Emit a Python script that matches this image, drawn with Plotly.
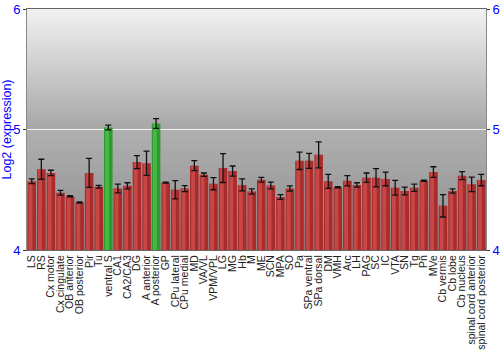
import plotly.graph_objects as go

categories = ["LS", "RS", "Cx motor", "Cx cingulate", "OB anterior", "OB posterior", "Pir", "Tu",
              "ventral S", "CA1", "CA2/CA3", "DG", "A anterior", "A posterior", "GP", "CPu lateral",
              "CPu medial", "MD", "VA/VL", "VPM/VPL", "LG", "MG", "Hb", "M", "ME", "SCN", "MPA", "SO",
              "Pa", "SPa ventral", "SPa dorsal", "DM", "VMH", "Arc", "LH", "PAG", "SC", "IC", "VTA",
              "SN", "Tg", "Pn", "MVe", "Cb vermis", "Cb lobe", "Cb nucleus",
              "spinal cord anterior", "spinal cord posterior"]
values = [4.57, 4.67, 4.64, 4.475, 4.447, 4.394, 4.64, 4.525,
          5.017, 4.51, 4.533, 4.73, 4.72, 5.05, 4.56, 4.50,
          4.51, 4.70, 4.625, 4.55, 4.68, 4.655, 4.54, 4.486, 4.583, 4.536, 4.44, 4.51,
          4.74, 4.74, 4.79, 4.57, 4.52, 4.575, 4.54, 4.60, 4.60, 4.59, 4.517,
          4.49, 4.517, 4.575, 4.647, 4.367, 4.49, 4.617,
          4.545, 4.58]
errors = [0.02, 0.083, 0.022, 0.02, 0.005, 0.005, 0.12, 0.012,
          0.02, 0.036, 0.025, 0.054, 0.1, 0.04, 0.004, 0.076,
          0.025, 0.042, 0.014, 0.05, 0.12, 0.042, 0.05, 0.022, 0.02, 0.028, 0.02, 0.022,
          0.072, 0.062, 0.108, 0.058, 0.005, 0.043, 0.018, 0.039, 0.076, 0.057, 0.061,
          0.032, 0.03, 0.005, 0.044, 0.093, 0.018, 0.033,
          0.06, 0.047]
highlighted = ["ventral S", "A posterior"]
y_ticks = [4, 5, 6]

base_colors = ["#2f9a2f" if c in highlighted else "#a82c2c" for c in categories]
light_colors = ["#45b845" if c in highlighted else "#c84646" for c in categories]

fig = go.Figure()
fig.add_trace(go.Bar(
    x=categories, y=values, base=0,
    marker=dict(color=base_colors, line=dict(width=0)),
    width=0.9, hoverinfo="skip", showlegend=False,
))
fig.add_trace(go.Bar(
    x=categories, y=values,
    marker=dict(color=light_colors, line=dict(width=0)),
    width=0.4, offset=-0.33, hoverinfo="skip", showlegend=False,
))
fig.add_trace(go.Scatter(
    x=categories, y=values, mode="markers",
    marker=dict(size=1, opacity=0),
    error_y=dict(type="data", array=errors, color="#111111", thickness=1.3, width=3),
    hoverinfo="skip", showlegend=False,
))
fig.add_trace(go.Scatter(
    x=categories, y=values, mode="markers", yaxis="y2",
    marker=dict(size=1, opacity=0), hoverinfo="skip", showlegend=False,
))

# background gradient bands (paper coordinates), overlapping to avoid seams
shapes = []
n = 60
ov = 0.006
def lerp(a, b, t):
    return int(round(a + (b - a) * t))
for i in range(n):
    t0 = i / n
    t1 = (i + 1) / n
    tm = (t0 + t1) / 2
    ytop = 1 - t0 * 0.5
    ybot = 1 - t1 * 0.5
    g = lerp(0xf2, 0xa6, tm)
    shapes.append(dict(type="rect", xref="paper", yref="paper", x0=0, x1=1,
                       y0=max(0.5, ybot - ov), y1=ytop,
                       fillcolor=f"rgb({g},{g},{g})", line=dict(width=0), layer="below"))
for i in range(n):
    t0 = i / n
    t1 = (i + 1) / n
    tm = (t0 + t1) / 2
    ytop = 0.5 - t0 * 0.5
    ybot = 0.5 - t1 * 0.5
    g2 = lerp(0xb0, 0x8c, tm)
    shapes.append(dict(type="rect", xref="paper", yref="paper", x0=0, x1=1,
                       y0=max(0, ybot - ov), y1=ytop,
                       fillcolor=f"rgb({g2},{g2},{g2})", line=dict(width=0), layer="below"))

fig.update_layout(
    width=500, height=350,
    margin=dict(l=27, r=14, t=9, b=100),
    paper_bgcolor="white", plot_bgcolor="#c0c0c0",
    shapes=shapes,
    barmode="overlay",
    font=dict(family="Liberation Sans, Arial, sans-serif"),
    xaxis=dict(
        tickmode="array", tickvals=categories, ticktext=categories,
        tickangle=-90, tickfont=dict(size=10.5, color="#222222"),
        showline=True, linecolor="#666666", mirror=True, ticks="",
        showgrid=False, range=[-0.5, len(categories) - 0.5], automargin=False,
    ),
    yaxis=dict(
        range=[4, 6], tickvals=y_ticks, ticks="outside", ticklen=3, tickcolor="#333333",
        tickfont=dict(size=13, color="#0000ff"),
        title=dict(text="Log2 (expression)", font=dict(size=12.5, color="#0000ff"), standoff=2),
        showgrid=True, gridcolor="#f4f4f4", gridwidth=1,
        showline=True, linecolor="#888888", zeroline=False, automargin=False,
    ),
    yaxis2=dict(
        range=[4, 6], tickvals=y_ticks, ticks="outside", ticklen=3, tickcolor="#333333",
        tickfont=dict(size=13, color="#0000ff"),
        overlaying="y", side="right", showgrid=False,
        showline=True, linecolor="#888888", zeroline=False, automargin=False,
    ),
)

fig.write_html("out.html")
